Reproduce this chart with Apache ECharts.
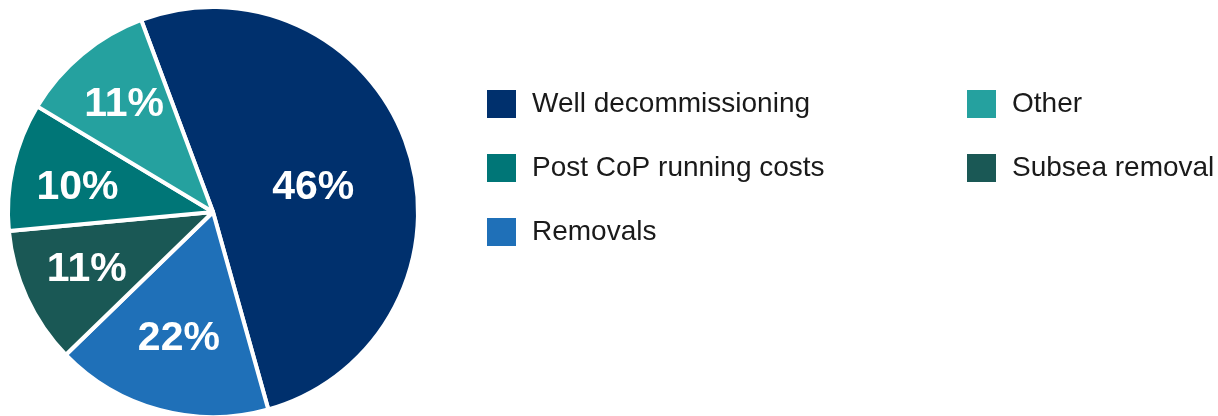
<!DOCTYPE html>
<html>
<head>
<meta charset="utf-8">
<script src="https://cdn.jsdelivr.net/npm/echarts@6/dist/echarts.min.js"></script>
<style>
html,body{margin:0;padding:0;background:#fff;}
#chart{width:1218px;height:416px;}
</style>
</head>
<body>
<div id="chart"></div>
<script>
// Categories in clockwise order, starting at the top
const categories = ['Well decommissioning', 'Removals', 'Subsea removal', 'Post CoP running costs', 'Other'];
// Slice shares as drawn (measured from the slice angles)
const sliceShares = [51.4, 17.1, 10.8, 10.1, 10.7];
// Printed percentage labels
const printedLabels = ['46%', '22%', '11%', '10%', '11%'];
const colors = ['#00306d', '#1f70b8', '#1a5855', '#007677', '#25a19f'];
const legendLeft = ['Well decommissioning', 'Post CoP running costs', 'Removals'];
const legendRight = ['Other', 'Subsea removal'];

const FONT = '"Liberation Sans", Arial, Helvetica, sans-serif';
const center = [213, 212];
const startAngle = 110.5;
// small vertical nudges of individual labels
const labelNudge = [8, 0, 0, 7, 0];

function makeData(showFn) {
  return categories.map((c, i) => ({
    name: c,
    value: sliceShares[i],
    itemStyle: { color: colors[i] },
    label: { show: showFn(i) }
  }));
}

const labelStyle = {
  position: 'inside',
  color: '#ffffff',
  fontFamily: FONT,
  fontWeight: 'bold',
  fontSize: 41,
  formatter: p => printedLabels[p.dataIndex]
};

const nudge = p => ({ dy: labelNudge[p.dataIndex] || 0 });

function overlay(radius, showSet) {
  return {
    type: 'pie',
    center: center,
    radius: [0, radius],
    startAngle: startAngle,
    clockwise: true,
    silent: true,
    avoidLabelOverlap: false,
    legendHoverLink: false,
    animation: false,
    itemStyle: { color: 'transparent', borderWidth: 0, opacity: 0 },
    label: labelStyle,
    labelLine: { show: false },
    labelLayout: nudge,
    emphasis: { disabled: true },
    data: categories.map((c, i) => ({
      name: c + ' ',
      value: sliceShares[i],
      label: { show: showSet.includes(i), opacity: 1 },
      itemStyle: { opacity: 0 }
    }))
  };
}

const legendBase = {
  orient: 'vertical',
  padding: 0,
  itemWidth: 31,
  itemHeight: 30,
  itemGap: 32,
  icon: 'rect',
  selectedMode: false,
  textStyle: {
    fontFamily: FONT,
    fontSize: 28,
    lineHeight: 30,
    color: '#1a1a1a',
    padding: [0, 0, 0, 10]
  }
};

const chart = echarts.init(document.getElementById('chart'), null, { renderer: 'canvas' });
chart.setOption({
  animation: false,
  backgroundColor: '#ffffff',
  color: colors,
  legend: [
    Object.assign({}, legendBase, { left: 485, top: 88, data: legendLeft }),
    Object.assign({}, legendBase, { left: 965, top: 88, data: legendRight })
  ],
  series: [
    {
      type: 'pie',
      center: center,
      radius: [0, 205],
      startAngle: startAngle,
      clockwise: true,
      avoidLabelOverlap: false,
      itemStyle: { borderColor: '#ffffff', borderWidth: 4 },
      label: labelStyle,
      labelLine: { show: false },
      labelLayout: nudge,
      emphasis: { disabled: true },
      data: makeData(i => i === 0)
    },
    overlay(256, [1]),
    overlay(272, [2, 3, 4])
  ]
});
</script>
</body>
</html>
